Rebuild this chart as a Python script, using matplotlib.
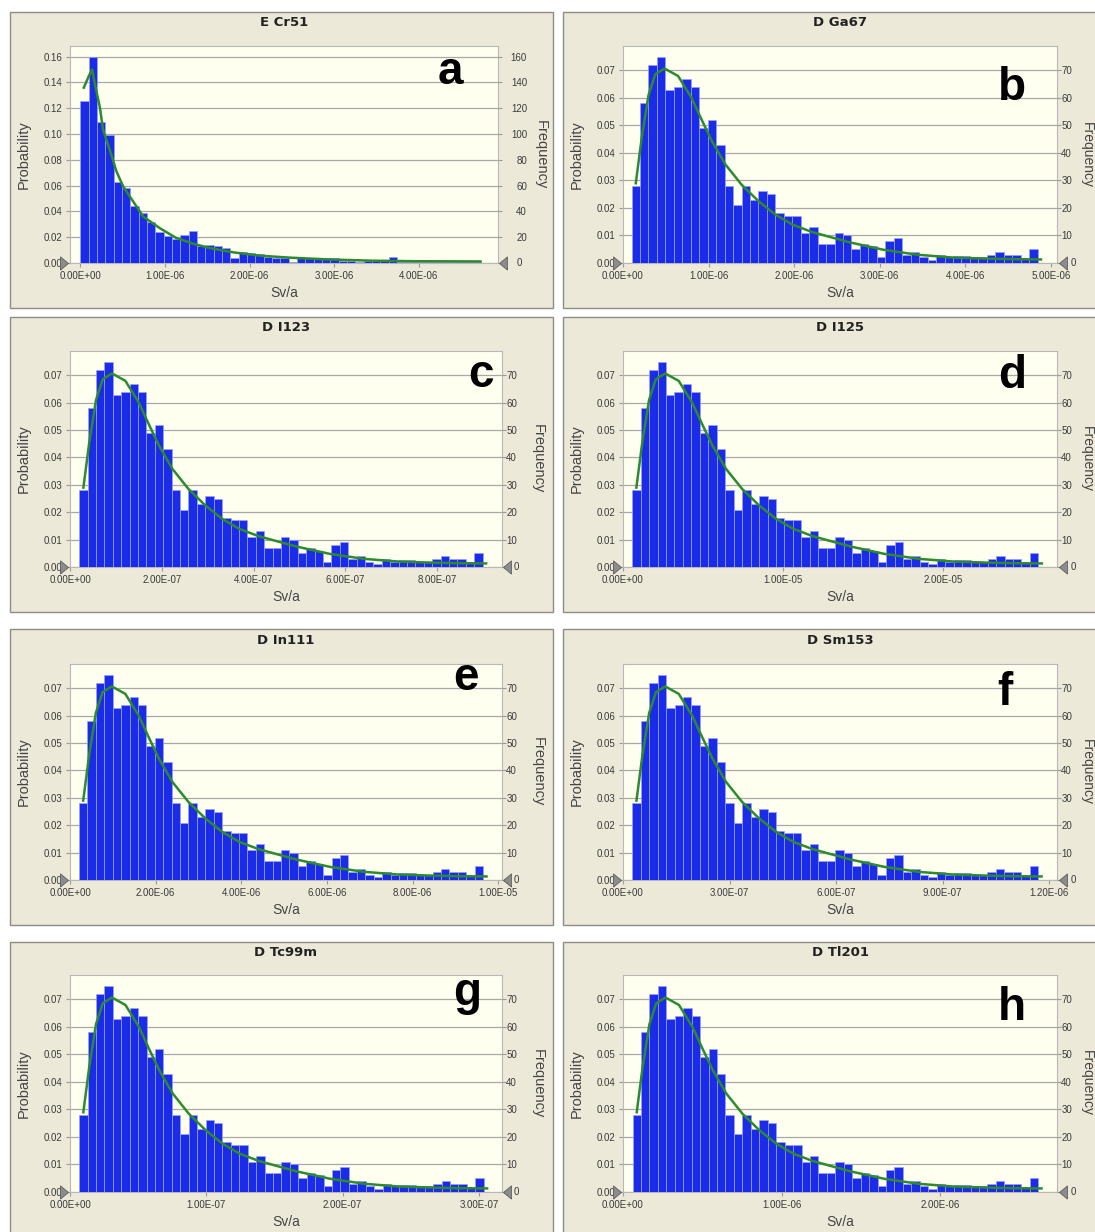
import matplotlib.pyplot as plt
import numpy as np
from matplotlib.patches import Rectangle
from matplotlib.transforms import blended_transform_factory

W, H = 1095, 1232

# E Cr51: probability per bin (1000 trials)
probs_e = [0.126, 0.160, 0.109, 0.099, 0.063, 0.058, 0.044, 0.039, 0.032, 0.024,
           0.021, 0.019, 0.022, 0.025, 0.0135, 0.014, 0.013, 0.012, 0.004, 0.0085,
           0.0077, 0.007, 0.005, 0.004, 0.0035, 0.001, 0.004, 0.004, 0.004, 0.004,
           0.004, 0.0015, 0.0015, 0.001, 0.0015, 0.0015, 0.0025, 0.0045, 0.001, 0.001,
           0.001, 0.0008, 0.0008, 0.0008, 0.0008, 0.0005, 0.0005, 0.0005]
# fitted density for Cr51, position given in bin units
curve_e_u = [0.4, 1.0, 1.4, 1.72, 2.32, 2.72, 3.52, 4.32, 5.12, 5.92, 7.52, 9.52,
             11.5, 13.5, 15.5, 18.3, 21.5, 25.0, 30.0, 35.0, 40.0, 48.0]
curve_e_p = [0.136, 0.145, 0.150, 0.139, 0.121, 0.103, 0.0877, 0.071, 0.0594, 0.0516,
             0.0361, 0.027, 0.0194, 0.015, 0.0116, 0.0083, 0.0057, 0.0042, 0.0027,
             0.0018, 0.0014, 0.0012]

# D nuclides: same sample, only the dose scale differs
probs_d = [0.028, 0.058, 0.072, 0.075, 0.063, 0.064, 0.067, 0.064, 0.049, 0.052,
           0.043, 0.028, 0.021, 0.028, 0.023, 0.026, 0.025, 0.018, 0.017, 0.017,
           0.011, 0.013, 0.007, 0.007, 0.011, 0.010, 0.005, 0.007, 0.006, 0.002,
           0.008, 0.009, 0.003, 0.004, 0.002, 0.001, 0.003, 0.002, 0.0025, 0.0025,
           0.002, 0.002, 0.003, 0.004, 0.003, 0.003, 0.0015, 0.005]
curve_d_u = [0.5, 1.2, 2.0, 2.8, 3.9, 5.5, 7.1, 8.3, 9.5, 11.1, 13.0, 15.0, 17.0,
             19.0, 21.3, 23.3, 25.8, 29.8, 33.8, 37.9, 41.9, 45.0, 48.4]
curve_d_p = [0.029, 0.0455, 0.061, 0.0686, 0.0707, 0.068, 0.060, 0.052, 0.0443,
             0.0358, 0.0285, 0.0225, 0.0176, 0.014, 0.0113, 0.0096, 0.0075, 0.0048,
             0.0030, 0.0020, 0.0016, 0.0014, 0.0013]

titles = ['E Cr51', 'D Ga67', 'D I123', 'D I125', 'D In111', 'D Sm153', 'D Tc99m', 'D Tl201']
letters = ['a', 'b', 'c', 'd', 'e', 'f', 'g', 'h']
bin_lo = [0.0, 1.0e-7, 2.0e-8, 5.7e-7, 2.1e-7, 2.6e-8, 6.7e-9, 6.0e-8]
bin_hi = [4.733e-6, 4.843e-6, 8.99e-7, 2.594e-5, 9.65e-6, 1.169e-6, 3.036e-7, 2.618e-6]
x_lo = [-1.24e-7, 0, 0, 0, 0, 0, 0, 0]
x_hi = [4.94e-6, 5.07e-6, 9.41e-7, 2.71e-5, 1.009e-5, 1.222e-6, 3.17e-7, 2.737e-6]
tick_step = [1e-6, 1e-6, 2e-7, 1e-5, 2e-6, 3e-7, 1e-7, 1e-6]
tick_top = [4e-6, 5e-6, 8e-7, 2e-5, 1e-5, 1.2e-6, 3e-7, 2e-6]
letter_pos = [(450, 84), (1012, 100), (481, 387), (1012, 388),
              (466, 690), (1005, 705), (467, 1005), (1012, 1020)]

# pixel layout
plot_left = [70, 623]
plot_right = [[498, 1057], [502, 1057]]
plot_top = [46, 351, 664, 975]
plot_bot = [263, 567, 880, 1192]
frame_x = [(10, 553), (563, 1110)]
frame_y = [(12, 308), (317, 612), (629, 925), (942, 1250)]

BAR = '#1a2ce8'
GREEN = '#2d8a2d'
TICKC = '#3a3a3a'
GRID = '#a8a8a8'
LABEL_FONT = ['Liberation Sans', 'DejaVu Sans']

# narrow grey arrowheads used as zero markers
TRI_RIGHT = [(-0.6, -1.0), (0.6, 0.0), (-0.6, 1.0), (-0.6, -1.0)]
TRI_LEFT = [(0.6, -1.0), (-0.6, 0.0), (0.6, 1.0), (0.6, -1.0)]


def fx(x):
    return x / W


def fy(y):
    return 1 - y / H


fig = plt.figure(figsize=(W / 100, H / 100), dpi=100)
fig.patch.set_facecolor('white')

for i in range(8):
    row, col = divmod(i, 2)
    first = (i == 0)

    # beige frame around each chart
    x0, x1 = frame_x[col]
    y0, y1 = frame_y[row]
    fig.add_artist(Rectangle((fx(x0), fy(y1)), (x1 - x0) / W, (y1 - y0) / H,
                             transform=fig.transFigure, facecolor='#ECE9D8',
                             edgecolor='#8e8c84', lw=1.0, zorder=-1))

    l = plot_left[col]
    r = plot_right[0 if first else 1][col]
    t, b = plot_top[row], plot_bot[row]
    ax = fig.add_axes([fx(l), fy(b), (r - l) / W, (b - t) / H])
    ax.set_facecolor('#FFFFF0')

    if first:
        probs, cu, cp = probs_e, curve_e_u, curve_e_p
        ymax, yticks = 0.1683, np.arange(0, 0.161, 0.02)
        fticks = np.arange(0, 161, 20)
    else:
        probs, cu, cp = probs_d, curve_d_u, curve_d_p
        ymax, yticks = 0.0789, np.arange(0, 0.0701, 0.01)
        fticks = np.arange(0, 71, 10)

    n = len(probs)
    w = (bin_hi[i] - bin_lo[i]) / n
    edges = bin_lo[i] + w * np.arange(n)
    ax.bar(edges, probs, width=w, align='edge', color=BAR,
           edgecolor='#9aa3f7', linewidth=0.5, zorder=3)
    ax.plot(bin_lo[i] + w * np.asarray(cu), cp, color=GREEN, lw=1.8, zorder=4,
            solid_joinstyle='round')

    ax.set_xlim(x_lo[i], x_hi[i])
    ax.set_ylim(0, ymax)
    xt = np.arange(0, tick_top[i] + tick_step[i] * 0.01, tick_step[i])
    ax.set_xticks(xt)
    ax.set_xticklabels(['%.2E' % v for v in xt])
    ax.set_yticks(yticks)
    ax.set_yticklabels(['%.2f' % v for v in yticks])
    ax.yaxis.grid(True, color=GRID, lw=0.9, zorder=1)
    ax.set_axisbelow(True)
    for s in ax.spines.values():
        s.set_color('#b8b8b8')
        s.set_linewidth(0.8)
    ax.tick_params(axis='both', colors='#9a9a9a', labelcolor=TICKC, labelsize=7,
                   length=3, width=0.8)
    ax.tick_params(axis='y', pad=2.5)
    ax.tick_params(axis='x', pad=2.5)
    for tl in ax.get_xticklabels() + ax.get_yticklabels():
        tl.set_family(LABEL_FONT)

    # frequency scale on the right; the zero label sits beside its marker
    ax2 = ax.twinx()
    ax2.set_ylim(0, ymax * 1000)
    ax2.set_yticks(fticks)
    ax2.set_yticklabels([''] + [str(v) for v in fticks[1:]])
    ax2.tick_params(axis='y', colors='#9a9a9a', labelcolor=TICKC, labelsize=7,
                    length=3, width=0.8, pad=17.9 if first else 7.8)
    for tl in ax2.get_yticklabels():
        tl.set_ha('right')
        tl.set_family(LABEL_FONT)
    for s in ax2.spines.values():
        s.set_visible(False)

    trans = blended_transform_factory(ax2.transAxes, ax2.transData)
    zero_dx = 17 if first else (12 if col == 0 else 14)
    ax2.annotate('0', xy=(1, 0), xycoords=trans, xytext=(zero_dx, 0),
                 textcoords='offset points', ha='right', va='center',
                 fontsize=7, color=TICKC, family=LABEL_FONT)

    # grey zero markers on both axes
    ax2.plot([-6.5 / (r - l)], [0], marker=TRI_RIGHT, markersize=9.5,
             color='#8c8c8c', markeredgecolor='#5e5e5e', markeredgewidth=0.6,
             transform=trans, clip_on=False, zorder=6)
    ax2.plot([1 + 5.5 / (r - l)], [0], marker=TRI_LEFT, markersize=9.5,
             color='#8c8c8c', markeredgecolor='#5e5e5e', markeredgewidth=0.6,
             transform=trans, clip_on=False, zorder=6)

    cx = (l + r) / 2
    cy = (t + b) / 2
    fig.text(fx(cx), fy(t - 23), titles[i], ha='center', va='center',
             fontsize=9.5, fontweight='bold', color='#222222', family='DejaVu Sans')
    fig.text(fx(cx), fy(b + 30), 'Sv/a', ha='center', va='center',
             fontsize=10, color='#444444', family=LABEL_FONT)
    fig.text(fx(l - 46), fy(cy), 'Probability', ha='center', va='center',
             rotation=90, fontsize=10.5, color='#444444', family=LABEL_FONT)
    if col == 0:
        freq_x = r + (43 if first else 36)
    else:
        freq_x = 1087
    fig.text(fx(freq_x), fy(cy), 'Frequency', ha='center', va='center',
             rotation=270, fontsize=10.5 if col == 0 else 10, color='#444444',
             family=LABEL_FONT)

    lx, ly = letter_pos[i]
    fig.text(fx(lx), fy(ly), letters[i], ha='center', va='baseline',
             fontsize=33, fontweight='bold', color='black', family=LABEL_FONT)

fig.savefig('out.png', dpi=100)
